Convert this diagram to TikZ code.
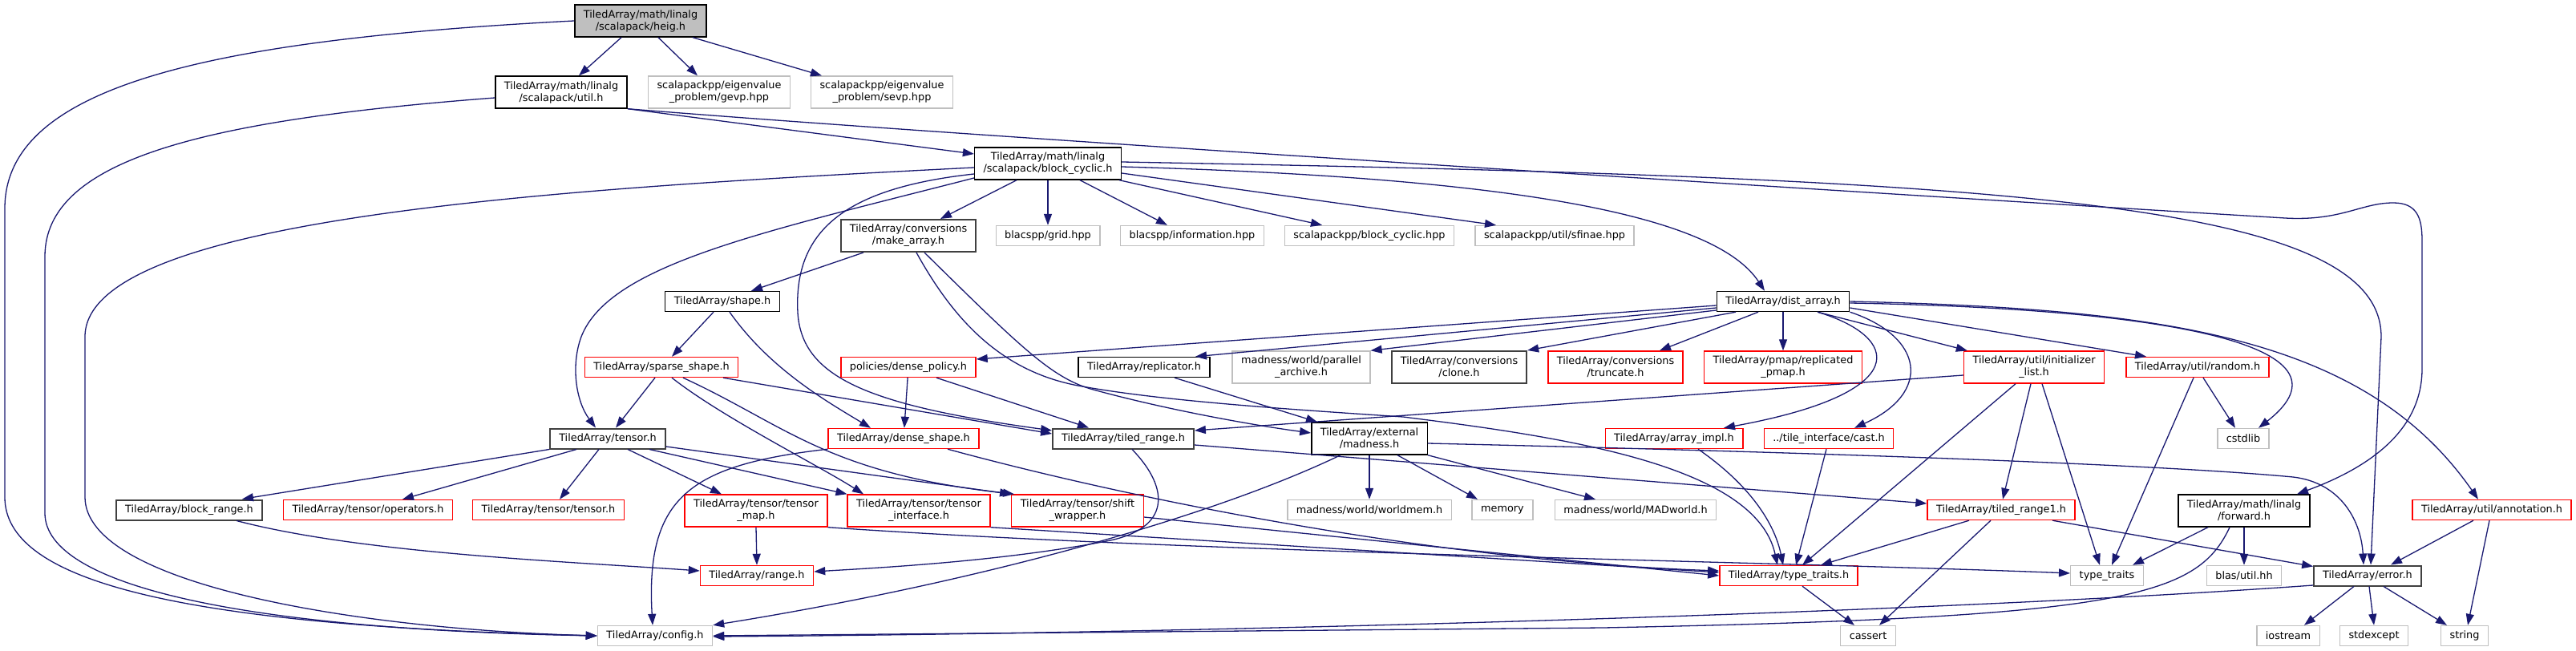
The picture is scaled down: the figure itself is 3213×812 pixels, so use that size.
\documentclass[tikz,border=0pt]{standalone}
\usepackage{fontspec}
\setmainfont{DejaVu Sans}
\usepackage{tikz}
\usetikzlibrary{arrows.meta}
\definecolor{edgeblue}{RGB}{25,25,112}
\definecolor{grey75}{RGB}{191,191,191}
\definecolor{grey25}{RGB}{64,64,64}
\newcommand{\depfont}{\fontsize{6.42}{7.5}\selectfont}
\tikzset{
    header/.style={rectangle, draw=black, line width=0.7pt, fill=white, align=center, inner xsep=5.5pt, inner ysep=3pt, minimum height=12.5pt, font=\depfont},
    rootheader/.style={header, fill=grey75},
    darkheader/.style={header, draw=grey25, line width=1pt},
    sysheader/.style={header, draw=grey75},
    cutheader/.style={header, draw=red},
    twoline/.style={minimum height=20pt}
}

\begin{document}
\begin{tikzpicture}[
    x=0.5pt, y=-0.5pt,
    incl/.style={draw=edgeblue, line width=0.65pt, -{Triangle[length=7pt, width=5pt]}}
]
    \useasboundingbox (0,0) rectangle (3213,812);

    \node[rootheader, twoline] (heig) at (799,26) {TiledArray/math/linalg\\/scalapack/heig.h};
    \node[header, twoline] (util) at (700,115) {TiledArray/math/linalg\\/scalapack/util.h};
    \node[sysheader, twoline] (gevp) at (897,115) {scalapackpp/eigenvalue\\\_problem/gevp.hpp};
    \node[sysheader, twoline] (sevp) at (1100,115) {scalapackpp/eigenvalue\\\_problem/sevp.hpp};
    \node[header, twoline] (bcyc) at (1307,204) {TiledArray/math/linalg\\/scalapack/block\_cyclic.h};
    \node[darkheader, twoline] (mkarr) at (1133,294) {TiledArray/conversions\\/make\_array.h};
    \node[sysheader] (grid) at (1307,294) {blacspp/grid.hpp};
    \node[sysheader] (info) at (1487,294) {blacspp/information.hpp};
    \node[sysheader] (sbcyc) at (1708,294) {scalapackpp/block\_cyclic.hpp};
    \node[sysheader] (sfinae) at (1939,294) {scalapackpp/util/sfinae.hpp};
    \node[header] (shape) at (901,376) {TiledArray/shape.h};
    \node[header] (dist) at (2224,376) {TiledArray/dist\_array.h};
    \node[cutheader] (dpol) at (1133,458) {policies/dense\_policy.h};
    \node[header] (repl) at (1427,458) {TiledArray/replicator.h};
    \node[sysheader, twoline] (parch) at (1623,458) {madness/world/parallel\\\_archive.h};
    \node[darkheader, twoline] (clone) at (1820,458) {TiledArray/conversions\\/clone.h};
    \node[cutheader, twoline] (trunc) at (2015,458) {TiledArray/conversions\\/truncate.h};
    \node[cutheader, twoline] (pmap) at (2224,458) {TiledArray/pmap/replicated\\\_pmap.h};
    \node[cutheader, twoline] (initl) at (2537,458) {TiledArray/util/initializer\\\_list.h};
    \node[cutheader] (random) at (2741,458) {TiledArray/util/random.h};
    \node[cutheader] (sparse) at (825,458) {TiledArray/sparse\_shape.h};
    \node[darkheader] (tensor) at (758,547) {TiledArray/tensor.h};
    \node[cutheader] (dshape) at (1127,547) {TiledArray/dense\_shape.h};
    \node[darkheader] (trange) at (1401,547) {TiledArray/tiled\_range.h};
    \node[header, twoline] (madness) at (1708,547) {TiledArray/external\\/madness.h};
    \node[cutheader] (aimpl) at (2088,547) {TiledArray/array\_impl.h};
    \node[cutheader] (cast) at (2281,547) {../tile\_interface/cast.h};
    \node[sysheader] (cstdlib) at (2798,547) {cstdlib};
    \node[darkheader] (brange) at (236,636) {TiledArray/block\_range.h};
    \node[cutheader] (tops) at (459,636) {TiledArray/tensor/operators.h};
    \node[cutheader] (ttensor) at (684,636) {TiledArray/tensor/tensor.h};
    \node[cutheader, twoline] (tmap) at (943,637) {TiledArray/tensor/tensor\\\_map.h};
    \node[cutheader, twoline] (tiface) at (1146,637) {TiledArray/tensor/tensor\\\_interface.h};
    \node[cutheader, twoline] (shift) at (1344,637) {TiledArray/tensor/shift\\\_wrapper.h};
    \node[sysheader] (wmem) at (1708,636) {madness/world/worldmem.h};
    \node[sysheader] (memory) at (1874,636) {memory};
    \node[sysheader] (madworld) at (2040,636) {madness/world/MADworld.h};
    \node[cutheader] (trange1) at (2496,636) {TiledArray/tiled\_range1.h};
    \node[header, twoline] (fwd) at (2799,637) {TiledArray/math/linalg\\/forward.h};
    \node[cutheader] (annot) at (3108,636) {TiledArray/util/annotation.h};
    \node[cutheader] (range) at (944,718) {TiledArray/range.h};
    \node[cutheader] (ttraits) at (2231,718) {TiledArray/type\_traits.h};
    \node[sysheader] (stdtt) at (2628,718) {type\_traits};
    \node[sysheader] (blas) at (2799,718) {blas/util.hh};
    \node[darkheader] (error) at (2953,718) {TiledArray/error.h};
    \node[sysheader] (config) at (817,793) {TiledArray/config.h};
    \node[sysheader] (cassert) at (2330,793) {cassert};
    \node[sysheader] (iostream) at (2854,793) {iostream};
    \node[sysheader] (stdexcept) at (2961,793) {stdexcept};
    \node[sysheader] (string) at (3074,793) {string};

    \draw[incl] ([xshift=-12pt]heig.south) -- ([xshift=11pt]util.north);
    \draw[incl] ([xshift=11pt]heig.south) -- ([xshift=-13.5pt]gevp.north);
    \draw[incl] ([xshift=32.5pt]heig.south) -- ([xshift=-37.5pt]sevp.north);
    \draw[incl] (heig.west) .. controls (250,50) and (6,110) .. (6,260) -- (6,620) .. controls (6,720) and (200,780) .. (config.west);

    \draw[incl] (util.south east) -- ([yshift=6pt]bcyc.west);
    \draw[incl] ([yshift=-3.5pt]util.west) .. controls (250,150) and (56,200) .. (56,320) -- (56,640) .. controls (56,730) and (300,785) .. (config.west);
    \draw[incl] (util.south east) .. controls (1200,170) and (2400,245) .. (2850,272) .. controls (2920,276) and (2945,253) .. (2985,253) .. controls (3015,253) and (3021,272) .. (3021,300) -- (3021,460) .. controls (3021,540) and (2950,585) .. ([xshift=33pt]fwd.north);

    \draw[incl] ([xshift=-19.5pt]bcyc.south) -- ([xshift=20pt]mkarr.north);
    \draw[incl] (bcyc.south) -- (grid.north);
    \draw[incl] ([xshift=20pt]bcyc.south) -- ([xshift=-15.5pt]info.north);
    \draw[incl] ([xshift=44.5pt]bcyc.south) -- ([xshift=-29.5pt]sbcyc.north);
    \draw[incl] ([yshift=-6pt]bcyc.east) -- ([xshift=-36.5pt]sfinae.north);
    \draw[incl] ([yshift=-2pt]bcyc.east) .. controls (1900,222) and (2140,270) .. ([xshift=-11.5pt]dist.north);
    \draw[incl] ([yshift=1pt]bcyc.east) .. controls (2500,222) and (2970,250) .. (2970,420) -- ([xshift=2pt]error.north);
    \draw[incl] ([yshift=-2.5pt]bcyc.west) .. controls (700,235) and (106,270) .. (106,420) -- (106,620) .. controls (106,730) and (450,785) .. (config.west);
    \draw[incl] ([yshift=-6.5pt]bcyc.west) .. controls (1050,235) and (990,290) .. (995,390) .. controls (1000,470) and (1080,505) .. ([yshift=5pt]trange.west);
    \draw[incl] ([yshift=-9pt]bcyc.west) .. controls (950,290) and (760,330) .. (725,420) .. controls (712,455) and (718,500) .. ([xshift=-7.5pt]tensor.north);

    \draw[incl] ([xshift=-28pt]mkarr.south) -- ([xshift=18pt]shape.north);
    \draw[incl] ([xshift=10pt]mkarr.south) .. controls (1270,430) and (1310,470) .. (1360,485) .. controls (1450,510) and (1560,530) .. ([yshift=3.5pt]madness.west);
    \draw[incl] ([xshift=5pt]mkarr.south) .. controls (1190,400) and (1250,465) .. (1350,482) .. controls (1450,500) and (1600,510) .. (1750,520) .. controls (1950,545) and (2190,580) .. ([xshift=-7pt]ttraits.north);

    \draw[incl] ([xshift=-5.5pt]shape.south) -- ([xshift=6.5pt]sparse.north);
    \draw[incl] ([xshift=4.5pt]shape.south) .. controls (960,460) and (1030,500) .. ([xshift=-20.5pt]dshape.north);

    \draw[incl] ([xshift=-4pt]sparse.south) -- ([xshift=5pt]tensor.north);
    \draw[incl] ([xshift=38.5pt]sparse.south) -- ([yshift=3pt]trange.west);
    \draw[incl] ([xshift=6.5pt]sparse.south) .. controls (900,520) and (1020,580) .. ([xshift=-34.5pt]tiface.north);
    \draw[incl] ([xshift=13.5pt]sparse.south) .. controls (980,530) and (1030,590) .. ([xshift=2pt]shift.north west);

    \draw[incl] (tensor.south west) -- ([xshift=33pt]brange.north);
    \draw[incl] ([xshift=-19.5pt]tensor.south) -- ([xshift=21.5pt]tops.north);
    \draw[incl] ([xshift=-5.5pt]tensor.south) -- ([xshift=7pt]ttensor.north);
    \draw[incl] ([xshift=12.5pt]tensor.south) -- ([xshift=-21.5pt]tmap.north);
    \draw[incl] ([xshift=26pt]tensor.south) -- (tiface.north west);
    \draw[incl] ([yshift=-5pt]tensor.east) -- (shift.north west);

    \draw[incl] (dpol) -- (dshape);
    \draw[incl] ([xshift=17.5pt]dpol.south) -- ([xshift=-21.5pt]trange.north);
    \draw[incl] ([xshift=19pt]repl.south) -- ([xshift=-32.5pt]madness.north);

    \draw[incl] ([yshift=-2.5pt]dist.west) -- ([yshift=5pt]dpol.east);
    \draw[incl] ([yshift=-4pt]dist.west) -- ([xshift=32pt]repl.north);
    \draw[incl] ([yshift=-5.5pt]dist.west) -- (parch.north east);
    \draw[incl] ([xshift=-29.5pt]dist.south) -- (clone.north east);
    \draw[incl] ([xshift=-15.5pt]dist.south) -- ([xshift=27.5pt]trunc.north);
    \draw[incl] (dist.south) -- (pmap.north);
    \draw[incl] ([xshift=21.5pt]dist.south) .. controls (2370,420) and (2390,490) .. ([xshift=31pt]aimpl.north);
    \draw[incl] (dist.south east) .. controls (2400,420) and (2410,490) .. ([xshift=16pt]cast.north);
    \draw[incl] ([xshift=21.5pt]dist.south) -- ([xshift=2.5pt]initl.north west);
    \draw[incl] ([yshift=-4pt]dist.east) -- ([xshift=-32pt]random.north);
    \draw[incl] ([yshift=-1pt]dist.east) .. controls (2700,385) and (2950,430) .. ([xshift=9.5pt]cstdlib.north);
    \draw[incl] (dist.east) .. controls (2700,385) and (2950,420) .. ([xshift=-8.5pt]annot.north);

    \draw[incl] ([yshift=-5pt]initl.west) -- ([yshift=5pt]trange.east);
    \draw[incl] ([xshift=-11.5pt]initl.south) -- ([xshift=8.5pt]ttraits.north);
    \draw[incl] ([xshift=-2pt]initl.south) -- ([xshift=1pt]trange1.north);
    \draw[incl] ([xshift=5pt]initl.south) -- ([xshift=-4.5pt]stdtt.north);
    \draw[incl] ([xshift=3.5pt]random.south) -- ([xshift=-5pt]cstdlib.north);
    \draw[incl] ([xshift=-2.5pt]random.south) -- ([xshift=3pt]stdtt.north);

    \draw[incl] ([xshift=5.5pt]trange.south) .. controls (1460,610) and (1460,660) .. (1380,675) .. controls (1250,700) and (1100,708) .. ([yshift=2.5pt]range.east);
    \draw[incl] ([yshift=-4pt]trange.east) -- ([yshift=4pt]trange1.west);

    \draw[incl] (madness.south) -- (wmem.north);
    \draw[incl] ([xshift=17.5pt]madness.south) -- ([xshift=-15.5pt]memory.north);
    \draw[incl] (madness.south east) -- ([xshift=-25pt]madworld.north);
    \draw[incl] ([xshift=-18pt]madness.south) .. controls (1500,650) and (1200,730) .. (config.north east);
    \draw[incl] ([yshift=-3pt]madness.east) .. controls (2300,565) and (2700,580) .. (2860,595) .. controls (2920,602) and (2945,650) .. ([xshift=-2.5pt]error.north);

    \draw[incl] (dshape.south west) .. controls (860,580) and (805,620) .. ([xshift=-1.5pt]config.north);
    \draw[incl] ([xshift=27.5pt]dshape.south) .. controls (1420,625) and (1800,700) .. ([yshift=3pt]ttraits.west);

    \draw[incl] (tmap.south) -- (range.north);
    \draw[incl] (tmap.south east) .. controls (1500,690) and (2200,700) .. ([yshift=1.5pt]stdtt.west);
    \draw[incl] (tiface.south east) -- ([yshift=2pt]ttraits.west);
    \draw[incl] ([yshift=-4pt]shift.east) -- (ttraits.west);
    \draw[incl] ([xshift=29.5pt]brange.south) .. controls (450,690) and (700,700) .. ([yshift=3pt]range.west);

    \draw[incl] ([xshift=15pt]aimpl.south) .. controls (2190,610) and (2215,660) .. ([xshift=-3.5pt]ttraits.north);
    \draw[incl] ([xshift=-1.5pt]cast.south) -- ([xshift=4.5pt]ttraits.north);
    \draw[incl] ([xshift=8.5pt]ttraits.south) -- ([xshift=-8.5pt]cassert.north);

    \draw[incl] ([xshift=-20pt]trange1.south) -- ([xshift=20pt]ttraits.north);
    \draw[incl] ([xshift=-6.5pt]trange1.south) -- ([xshift=7pt]cassert.north);
    \draw[incl] ([xshift=32pt]trange1.south) -- ([yshift=-1pt]error.north west);

    \draw[incl] ([xshift=-22.5pt]fwd.south) -- ([xshift=16pt]stdtt.north);
    \draw[incl] (fwd.south) -- (blas.north);
    \draw[incl] ([xshift=-9pt]fwd.south) .. controls (2740,745) and (2650,770) .. (2000,783) -- (config.east);

    \draw[incl] ([xshift=-8.5pt]error.south) -- ([xshift=10pt]iostream.north);
    \draw[incl] ([xshift=1pt]error.south) -- (stdexcept.north);
    \draw[incl] ([xshift=10pt]error.south) -- ([xshift=-11pt]string.north);
    \draw[incl] ([yshift=-6pt]error.west) .. controls (2400,765) and (1500,790) .. ([yshift=-0.5pt]config.east);
    \draw[incl] ([xshift=-11.5pt]annot.south) -- ([xshift=14.5pt]error.north);
    \draw[incl] ([xshift=-1.5pt]annot.south) -- ([xshift=2pt]string.north);
\end{tikzpicture}
\end{document}
